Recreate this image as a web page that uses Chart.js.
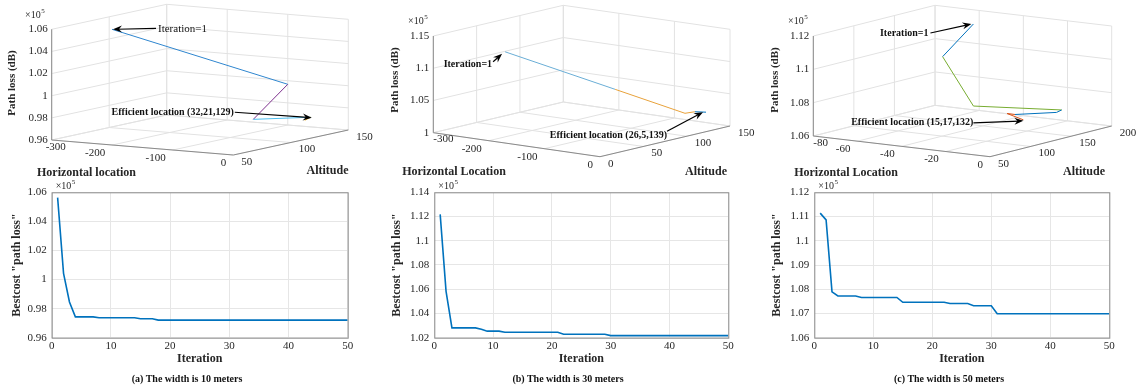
<!DOCTYPE html>
<html>
<head>
<meta charset="utf-8">
<script src="https://cdn.jsdelivr.net/npm/chart.js@4.4.1/dist/chart.umd.min.js"></script>
<style>
  body { margin: 0; background: #fff; width: 1145px; height: 392px; position: relative; overflow: hidden; }
  canvas { position: absolute; }
  .cap { position: absolute; top: 373px; font: bold 10px "Liberation Serif", serif; line-height: 12px; color: #111; transform: translateX(-50%); white-space: nowrap; }
</style>
</head>
<body>
<canvas id="topA" width="380" height="185" style="left:0;top:0"></canvas>
<canvas id="topB" width="380" height="185" style="left:380px;top:0"></canvas>
<canvas id="topC" width="385" height="185" style="left:760px;top:0"></canvas>
<canvas id="curveA" width="380" height="214" style="left:0;top:178px"></canvas>
<canvas id="curveB" width="380" height="214" style="left:380px;top:178px"></canvas>
<canvas id="curveC" width="385" height="214" style="left:760px;top:178px"></canvas>
<div class="cap" style="left:187px">(a) The width is 10 meters</div>
<div class="cap" style="left:568px">(b) The width is 30 meters</div>
<div class="cap" style="left:949px">(c) The width is 50 meters</div>
<script>
// ---- data (path loss values are in units of 10^5) ----
// search path in 3D: horizontal location, altitude, path loss
const pathXA = [-246, -62, -81, -32, -32];
const pathAltA = [74, 130, 110, 134, 129];
const pathLossA = [1.057, 1.003, 0.975, 0.9737, 0.9721];

const pathXB = [-231, -125, -25, -33.5, -26];
const pathAltB = [38.6, 97.6, 114.1, 131, 139];
const pathLossB = [1.1218, 1.058, 1.028, 1.024, 1.0217];

const pathXC = [-62.6, -38.2, -28.4, -0.4, 0, -15.2, -20.7, -15];
const pathAltC = [200, 95.6, 106.9, 139.4, 132, 122.2, 127.4, 132];
const pathLossC = [1.1115, 1.1085, 1.079, 1.077, 1.0765, 1.0741, 1.0732, 1.0697];

// best cost per iteration (1..50)
const bestCostA = [1.0563, 1.0043, 0.9846, 0.9743, 0.9743, 0.9743, 0.9743, 0.9737, 0.9737, 0.9737,
  0.9737, 0.9737, 0.9737, 0.9737, 0.9730, 0.9730, 0.9730, 0.9721, 0.9721, 0.9721,
  0.9721, 0.9721, 0.9721, 0.9721, 0.9721, 0.9721, 0.9721, 0.9721, 0.9721, 0.9721,
  0.9721, 0.9721, 0.9721, 0.9721, 0.9721, 0.9721, 0.9721, 0.9721, 0.9721, 0.9721,
  0.9721, 0.9721, 0.9721, 0.9721, 0.9721, 0.9721, 0.9721, 0.9721, 0.9721, 0.9721];
const bestCostB = [1.1218, 1.0583, 1.0281, 1.0281, 1.0281, 1.0281, 1.0281, 1.0270, 1.0254, 1.0254,
  1.0254, 1.0245, 1.0245, 1.0245, 1.0245, 1.0245, 1.0245, 1.0245, 1.0245, 1.0245,
  1.0245, 1.0228, 1.0228, 1.0228, 1.0228, 1.0228, 1.0228, 1.0228, 1.0228, 1.0217,
  1.0217, 1.0217, 1.0217, 1.0217, 1.0217, 1.0217, 1.0217, 1.0217, 1.0217, 1.0217,
  1.0217, 1.0217, 1.0217, 1.0217, 1.0217, 1.0217, 1.0217, 1.0217, 1.0217, 1.0217];
const bestCostC = [1.1114, 1.1086, 1.0789, 1.0772, 1.0772, 1.0772, 1.0772, 1.0766, 1.0766, 1.0766,
  1.0766, 1.0766, 1.0766, 1.0766, 1.0746, 1.0746, 1.0746, 1.0746, 1.0746, 1.0746,
  1.0746, 1.0746, 1.0741, 1.0741, 1.0741, 1.0741, 1.0732, 1.0732, 1.0732, 1.0732,
  1.0699, 1.0699, 1.0699, 1.0699, 1.0699, 1.0699, 1.0699, 1.0699, 1.0699, 1.0699,
  1.0699, 1.0699, 1.0699, 1.0699, 1.0699, 1.0699, 1.0699, 1.0699, 1.0699, 1.0699];

// tick labels
const xTicksA = [-300, -200, -100, 0];
const altTicksA = [50, 100, 150];
const zTicksA = [0.96, 0.98, 1, 1.02, 1.04, 1.06];
const xTicksB = [-300, -200, -100, 0];
const altTicksB = [0, 50, 100, 150];
const zTicksB = [1, 1.05, 1.1, 1.15];
const xTicksC = [-80, -60, -40, -20, 0];
const altTicksC = [50, 100, 150, 200];
const zTicksC = [1.06, 1.08, 1.1, 1.12];

const SERIF = '"Liberation Serif", "Times New Roman", serif';
const textColor = '#262626';
const gridColor = '#e2e2e2';
const axisColor = '#8a8a8a';

function fmt(v) {
    return String(parseFloat(v.toFixed(2)));
}

// orthographic projection of (x, altitude, path loss) onto the canvas
function project(v, x, a, z) {
    const fx = (x - v.xTicks[0]) / (v.xTicks[v.xTicks.length - 1] - v.xTicks[0]);
    const fa = (a - v.aTicks[0]) / (v.aTicks[v.aTicks.length - 1] - v.aTicks[0]);
    const fz = (z - v.zTicks[0]) / (v.zTicks[v.zTicks.length - 1] - v.zTicks[0]);
    return {
        x: v.A[0] + fx * (v.B[0] - v.A[0]) + fa * (v.C[0] - v.B[0]),
        y: v.A[1] + fx * (v.B[1] - v.A[1]) + fa * (v.C[1] - v.B[1]) - fz * v.H
    };
}

function drawTimes10(ctx, x, y) {
    ctx.font = '10px ' + SERIF;
    ctx.textAlign = 'left';
    ctx.textBaseline = 'alphabetic';
    ctx.fillStyle = textColor;
    ctx.fillText('\u00d710', x, y);
    const w = ctx.measureText('\u00d710').width;
    ctx.font = '7px ' + SERIF;
    ctx.fillText('5', x + w + 0.5, y - 5);
}

function drawArrow(ctx, tail, tip) {
    const ang = Math.atan2(tip[1] - tail[1], tip[0] - tail[0]);
    const len = 9, half = 3.5;
    ctx.strokeStyle = '#000';
    ctx.fillStyle = '#000';
    ctx.lineWidth = 1.2;
    ctx.beginPath();
    ctx.moveTo(tail[0], tail[1]);
    ctx.lineTo(tip[0] - Math.cos(ang) * 4, tip[1] - Math.sin(ang) * 4);
    ctx.stroke();
    const bx = tip[0] - Math.cos(ang) * len, by = tip[1] - Math.sin(ang) * len;
    const nx = -Math.sin(ang) * half, ny = Math.cos(ang) * half;
    ctx.beginPath();
    ctx.moveTo(tip[0], tip[1]);
    ctx.lineTo(bx + nx, by + ny);
    ctx.lineTo(tip[0] - Math.cos(ang) * 6, tip[1] - Math.sin(ang) * 6);
    ctx.lineTo(bx - nx, by - ny);
    ctx.closePath();
    ctx.fill();
}

// draws the box, grid, ticks and labels of a MATLAB-like 3D axes
function makeBox3d(v, notes) {
    return {
        id: 'box3d',
        beforeDatasetsDraw(chart) {
            const ctx = chart.ctx;
            const sx = chart.scales.x, sy = chart.scales.y;
            const xs = v.xTicks, as = v.aTicks, zs = v.zTicks;
            const x0 = xs[0], x1 = xs[xs.length - 1];
            const a0 = as[0], a1 = as[as.length - 1];
            const z0 = zs[0], z1 = zs[zs.length - 1];
            const P = (x, a, z) => {
                const p = project(v, x, a, z);
                return [sx.getPixelForValue(p.x), sy.getPixelForValue(p.y)];
            };
            const seg = (p, q) => {
                ctx.beginPath();
                ctx.moveTo(p[0], p[1]);
                ctx.lineTo(q[0], q[1]);
                ctx.stroke();
            };
            ctx.save();
            ctx.lineWidth = 1;
            ctx.strokeStyle = gridColor;
            // floor
            xs.forEach(x => seg(P(x, a0, z0), P(x, a1, z0)));
            as.forEach(a => seg(P(x0, a, z0), P(x1, a, z0)));
            // left wall
            as.forEach(a => seg(P(x0, a, z0), P(x0, a, z1)));
            zs.forEach(z => seg(P(x0, a0, z), P(x0, a1, z)));
            // back wall
            xs.forEach(x => seg(P(x, a1, z0), P(x, a1, z1)));
            zs.forEach(z => seg(P(x0, a1, z), P(x1, a1, z)));
            // axes
            ctx.strokeStyle = axisColor;
            seg(P(x0, a0, z0), P(x1, a0, z0));
            seg(P(x1, a0, z0), P(x1, a1, z0));
            seg(P(x0, a0, z0), P(x0, a0, z1));

            ctx.fillStyle = textColor;
            ctx.font = '11px ' + SERIF;
            ctx.textBaseline = 'middle';
            // path loss ticks
            ctx.textAlign = 'right';
            zs.forEach(z => {
                const p = P(x0, a0, z);
                ctx.fillText(fmt(z), p[0] - 4, p[1]);
            });
            // horizontal location ticks
            xs.forEach((x, i) => {
                const p = P(x, a0, z0);
                if (i === 0) {
                    ctx.textAlign = 'left';
                    ctx.fillText(String(x), p[0] + v.firstOff[0], p[1] + v.firstOff[1]);
                } else {
                    ctx.textAlign = 'right';
                    ctx.fillText(String(x), p[0] - 7, p[1] + 8);
                }
            });
            // altitude ticks
            ctx.textAlign = 'left';
            as.forEach(a => {
                const p = P(x1, a, z0);
                ctx.fillText(String(a), p[0] + 8, p[1] + 7);
            });

            // axis titles
            ctx.textAlign = 'center';
            ctx.font = 'bold 12px ' + SERIF;
            ctx.fillText(v.xTitle, v.xTitlePos[0], v.xTitlePos[1]);
            ctx.fillText('Altitude', v.aTitlePos[0], v.aTitlePos[1]);
            ctx.save();
            ctx.translate(v.zTitlePos[0], v.zTitlePos[1]);
            ctx.rotate(-Math.PI / 2);
            ctx.font = 'bold 11px ' + SERIF;
            ctx.fillText('Path loss (dB)', 0, 0);
            ctx.restore();
            drawTimes10(ctx, v.expPos[0], v.expPos[1]);
            ctx.restore();
        },
        afterDatasetsDraw(chart) {
            const ctx = chart.ctx;
            const pts = chart.data.datasets[0].data;
            const sx = chart.scales.x, sy = chart.scales.y;
            ctx.save();
            notes.forEach(n => {
                const p = pts[n.idx < 0 ? pts.length - 1 : n.idx];
                const base = [sx.getPixelForValue(p.x), sy.getPixelForValue(p.y)];
                const tip = [base[0] + n.tip[0], base[1] + n.tip[1]];
                const tail = [base[0] + n.tail[0], base[1] + n.tail[1]];
                drawArrow(ctx, tail, tip);
                ctx.font = (n.bold ? 'bold ' : '') + n.size + 'px ' + SERIF;
                ctx.fillStyle = '#111';
                ctx.textAlign = n.align;
                ctx.textBaseline = 'middle';
                ctx.fillText(n.text, tail[0] + n.textOff[0], tail[1] + n.textOff[1]);
            });
            ctx.restore();
        }
    };
}

function make3D(id, view, xs, alts, losses, colors, notes) {
    const cv = document.getElementById(id);
    const pts = xs.map((x, i) => project(view, x, alts[i], losses[i]));
    new Chart(cv, {
        type: 'scatter',
        data: {
            datasets: [{
                data: pts,
                showLine: true,
                pointRadius: 0,
                borderWidth: 1,
                borderColor: colors[0],
                segment: { borderColor: c => colors[c.p0DataIndex] }
            }]
        },
        options: {
            responsive: false,
            animation: false,
            events: [],
            layout: { padding: 0 },
            plugins: { legend: { display: false }, tooltip: { enabled: false } },
            scales: {
                x: { type: 'linear', min: 0, max: cv.width, display: false },
                y: { type: 'linear', min: 0, max: cv.height, reverse: true, display: false }
            }
        },
        plugins: [makeBox3d(view, notes)]
    });
}

// frame and exponent for the convergence plots
const framePlugin = {
    id: 'frame',
    afterDraw(chart) {
        const { ctx, chartArea: a } = chart;
        ctx.save();
        ctx.strokeStyle = '#8c8c8c';
        ctx.lineWidth = 1;
        ctx.strokeRect(a.left + 0.5, a.top + 0.5, a.right - a.left, a.bottom - a.top);
        drawTimes10(ctx, a.left + 4, a.top - 3);
        ctx.restore();
    }
};

function makeCurve(id, values, yMin, yMax, yStep, leftW, rightPad) {
    const iterations = values.map((v, i) => i + 1);
    new Chart(document.getElementById(id), {
        type: 'line',
        data: {
            datasets: [{
                data: values.map((v, i) => ({ x: iterations[i], y: v })),
                borderColor: '#0072BD',
                borderWidth: 1.6,
                pointRadius: 0,
                tension: 0,
                fill: false
            }]
        },
        options: {
            responsive: false,
            animation: false,
            events: [],
            layout: { padding: { left: 0, right: rightPad, top: 14.3, bottom: 24.3 } },
            plugins: { legend: { display: false }, tooltip: { enabled: false } },
            scales: {
                x: {
                    type: 'linear', min: 0, max: 50,
                    ticks: { stepSize: 10, color: textColor, font: { family: SERIF, size: 11 }, padding: 2, maxRotation: 0 },
                    grid: { color: '#e6e6e6', drawTicks: false },
                    border: { display: false },
                    title: { display: true, text: 'Iteration', color: textColor, font: { family: SERIF, size: 12, weight: 'bold' }, padding: { top: 0, bottom: 2 } },
                    afterFit: s => { s.height = 30; }
                },
                y: {
                    min: yMin, max: yMax,
                    ticks: { stepSize: yStep, color: textColor, font: { family: SERIF, size: 11 }, padding: 5, callback: v => fmt(v) },
                    grid: { color: '#e6e6e6', drawTicks: false },
                    border: { display: false },
                    title: { display: true, text: 'Bestcost "path loss"', color: textColor, font: { family: SERIF, size: 12, weight: 'bold' }, padding: { top: 10, bottom: 0 } },
                    afterFit: s => { s.width = leftW; }
                }
            }
        },
        plugins: [framePlugin]
    });
}

make3D('topA', {
    A: [51.7, 140], B: [233.3, 155], C: [348.3, 130], H: 110.7,
    xTicks: xTicksA, aTicks: altTicksA, zTicks: zTicksA, firstOff: [-6, 7],
    xTitle: 'Horizontal location', xTitlePos: [86.5, 172.7], aTitlePos: [327.5, 170.7],
    zTitlePos: [12, 83], expPos: [25, 18]
}, pathXA, pathAltA, pathLossA, ['#2f86cf', '#7E2F8E', '#4DBEEE', '#EDB120'], [
    { idx: 0, tip: [1, 0], tail: [44, -1], text: 'Iteration=1', align: 'left', bold: false, size: 11, textOff: [2, 1] },
    { idx: -1, tip: [7, -2.5], tail: [-70, -8], text: 'Efficient location (32,21,129)', align: 'right', bold: true, size: 10, textOff: [-1, 0] }
]);

make3D('topB', {
    A: [53.3, 132.7], B: [220, 156.7], C: [350, 126], H: 96.7,
    xTicks: xTicksB, aTicks: altTicksB, zTicks: zTicksB, firstOff: [0, 6],
    xTitle: 'Horizontal Location', xTitlePos: [74, 171.7], aTitlePos: [326, 171.7],
    zTitlePos: [15, 80], expPos: [28, 24]
}, pathXB, pathAltB, pathLossB, ['#6aaed6', '#E8A23B', '#E8A23B', '#0072BD'], [
    { idx: 0, tip: [-3, 2], tail: [-12, 10], text: 'Iteration=1', align: 'right', bold: true, size: 10, textOff: [-1, 3] },
    { idx: -1, tip: [-3, 0], tail: [-39, 19], text: 'Efficient location (26,5,139)', align: 'right', bold: true, size: 10, textOff: [0, 4] }
]);

make3D('topC', {
    A: [53.3, 136], B: [230, 156.7], C: [351.7, 126], H: 100,
    xTicks: xTicksC, aTicks: altTicksC, zTicks: zTicksC, firstOff: [0, 7],
    xTitle: 'Horizontal Location', xTitlePos: [86, 173], aTitlePos: [324, 171.7],
    zTitlePos: [15, 80], expPos: [28, 24]
}, pathXC, pathAltC, pathLossC, ['#0072BD', '#77AC30', '#77AC30', '#0072BD', '#0072BD', '#D95319', '#D95319'], [
    { idx: 0, tip: [-2, 0], tail: [-43, 9], text: 'Iteration=1', align: 'right', bold: true, size: 10, textOff: [-2, 0] },
    { idx: -1, tip: [0, 1], tail: [-50, 3], text: 'Efficient location (15,17,132)', align: 'right', bold: true, size: 10, textOff: [0, 0] }
]);

makeCurve('curveA', bestCostA, 0.96, 1.06, 0.02, 51.7, 32.3);
makeCurve('curveB', bestCostB, 1.02, 1.14, 0.02, 54.3, 31.7);
makeCurve('curveC', bestCostC, 1.06, 1.12, 0.01, 54.3, 35.7);
</script>
</body>
</html>
